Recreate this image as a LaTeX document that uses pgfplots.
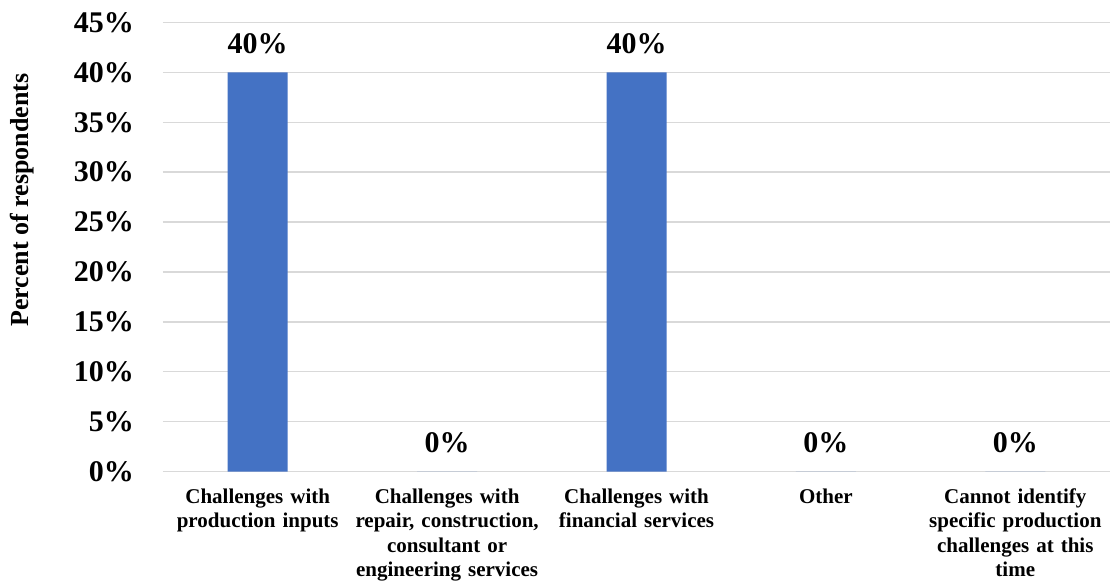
\documentclass[border=0pt]{standalone}
\usepackage{pgfplots}
\pgfplotsset{compat=1.18}
\usepackage{fontspec}
\setmainfont{Liberation Serif}
\definecolor{barblue}{HTML}{4472C4}
\definecolor{gridgray}{HTML}{D9D9D9}
\begin{document}
\begin{tikzpicture}
\begin{axis}[
  at={(0,0)}, anchor=south west,
  scale only axis, width=947pt, height=449pt,
  xmin=-0.5, xmax=4.5, ymin=0, ymax=45,
  axis line style={draw=none},
  major tick length=0pt,
  ytick={0,5,...,45},
  yticklabels={0\%,5\%,10\%,15\%,20\%,25\%,30\%,35\%,40\%,45\%},
  xtick={0,1,2,3,4},
  xticklabels={{Challenges with\\production inputs},{Challenges with\\repair, construction,\\consultant or\\engineering services},{Challenges with\\financial services},{Other},{Cannot identify\\specific production\\challenges at this\\time}},
  ymajorgrids, grid style={gridgray, line width=1.5pt},
  yticklabel style={font=\fontsize{30}{33}\selectfont\bfseries, anchor=east, inner sep=0pt, xshift=-29pt},
  xticklabel style={font=\fontsize{21}{24.5}\selectfont\bfseries, anchor=north, align=center, inner sep=0pt, yshift=-17pt, text width=190pt},
  ylabel={Percent of respondents},
  ylabel style={font=\fontsize{26}{29}\selectfont\bfseries, at={(axis description cs:-0.1484,0.6047)}, anchor=center},
  ybar, bar width=60pt,
  nodes near coords, point meta=explicit symbolic,
  nodes near coords style={font=\fontsize{30}{33}\selectfont\bfseries, anchor=south, inner sep=0pt, yshift=18pt},
  clip=false,
]
\addplot[fill=barblue, draw=none] coordinates {(0,40)[40\%] (1,0)[0\%] (2,40)[40\%] (3,0)[0\%] (4,0)[0\%]};
\end{axis}
\pgfresetboundingbox
\path (-163pt,-111.5pt) rectangle (947pt,471.5pt);
\end{tikzpicture}
\end{document}
